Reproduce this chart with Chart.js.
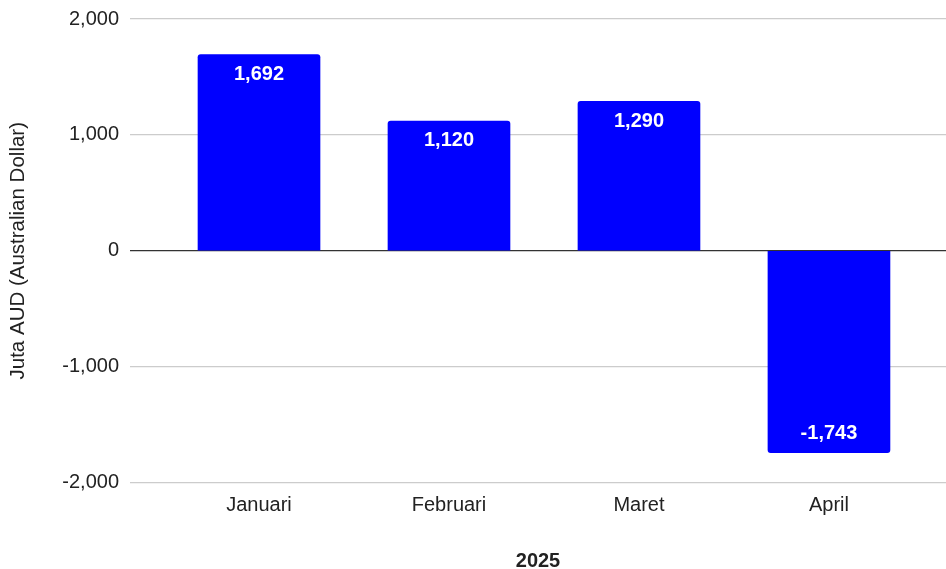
<!DOCTYPE html>
<html>
<head>
<meta charset="utf-8">
<script src="https://cdn.jsdelivr.net/npm/chart.js@4"></script>
<style>
  html, body { margin: 0; padding: 0; background: #fff; }
  #wrap { width: 946px; height: 569px; position: relative; }
</style>
</head>
<body>
<div id="wrap"><canvas id="chart"></canvas></div>
<script>
// ── DATA ──────────────────────────────────────────────────────────────────────
const months = ['Januari', 'Februari', 'Maret', 'April'];
const values = [1692, 1120, 1290, -1743];
const yTicks = [-2000, -1000, 0, 1000, 2000];

const FONT = "'Liberation Sans', Arial, sans-serif";
const fmt = v => v.toLocaleString('en-US');

// value labels inside the bar ends
const barLabels = {
    id: 'barLabels',
    afterDatasetsDraw(chart) {
        const ctx = chart.ctx;
        const meta = chart.getDatasetMeta(0);
        ctx.save();
        ctx.font = 'bold 20px ' + FONT;
        ctx.fillStyle = '#ffffff';
        ctx.textAlign = 'center';
        ctx.textBaseline = 'middle';
        meta.data.forEach((bar, i) => {
            const v = values[i];
            const y = v >= 0 ? bar.y + 20 : bar.y - 19;
            ctx.fillText(fmt(v), bar.x, y);
        });
        ctx.restore();
    }
};

new Chart(document.getElementById('chart'), {
    type: 'bar',
    data: {
        datasets: [{
            data: values.map((v, i) => ({ x: i, y: v })),
            backgroundColor: '#0000ff',
            borderWidth: 0,
            borderRadius: 3,
            borderSkipped: 'start',
            barThickness: 122
        }]
    },
    options: {
        responsive: true, maintainAspectRatio: false, animation: false,
        layout: { padding: { top: 19, right: 0, left: 0, bottom: 0 } },
        plugins: { legend: { display: false }, tooltip: { enabled: false } },
        scales: {
            x: {
                type: 'linear', min: -0.679, max: 3.616, offset: false,
                afterBuildTicks: s => { s.ticks = months.map((m, i) => ({ value: i })); },
                afterFit: s => { s.height = 86.5; s.paddingLeft = 0; s.paddingRight = 0; },
                grid: { display: false }, border: { display: false },
                ticks: {
                    callback: v => months[v],
                    color: '#222', font: { family: FONT, size: 20 }, padding: 3, maxRotation: 0
                },
                title: {
                    display: true, text: '2025', color: '#222',
                    font: { family: FONT, size: 20, weight: 'bold' }, padding: { top: 40, bottom: -4 }
                }
            },
            y: {
                min: -2000, max: 2000,
                afterBuildTicks: s => { s.ticks = yTicks.map(v => ({ value: v })); },
                afterFit: s => { s.width = 130; s.paddingTop = 0; s.paddingBottom = 0; },
                border: { display: false },
                grid: {
                    color: c => c.tick.value === 0 ? '#333333' : '#cccccc',
                    lineWidth: 1.3, drawTicks: false
                },
                ticks: {
                    callback: v => fmt(v), color: '#222',
                    font: { family: FONT, size: 20 }, padding: 11
                },
                title: {
                    display: true, text: 'Juta AUD (Australian Dollar)', color: '#222',
                    font: { family: FONT, size: 20.5 }, padding: { top: 6, bottom: 8 }
                }
            }
        }
    },
    plugins: [barLabels]
});
</script>
</body>
</html>
